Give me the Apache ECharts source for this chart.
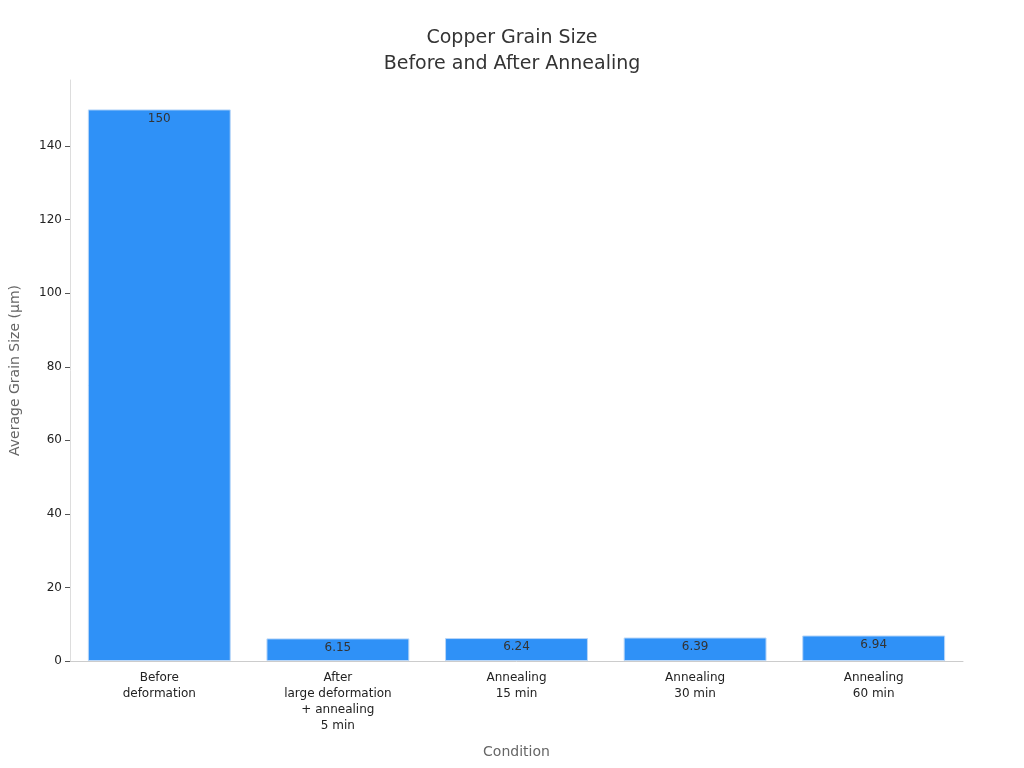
<!DOCTYPE html>
<html><head><meta charset="utf-8">
<script src="https://cdn.jsdelivr.net/npm/echarts@6/dist/echarts.min.js"></script>
<style>html,body{margin:0;padding:0;background:#fff}#c{width:1024px;height:768px}</style>
</head><body><div id="c"></div>
<script>
const categories = ["Before\ndeformation","After\nlarge deformation\n+ annealing\n5 min","Annealing\n15 min","Annealing\n30 min","Annealing\n60 min"];
const values = [150, 6.15, 6.24, 6.39, 6.94];
const labels = ["150","6.15","6.24","6.39","6.94"];
const chart = echarts.init(document.getElementById('c'));
const font = "DejaVu Sans";
chart.setOption({
  animation:false,
  textStyle:{fontFamily:font},
  title:{text:"Copper Grain Size\nBefore and After Annealing",left:'center',top:20,
    textStyle:{fontFamily:font,fontSize:19,fontWeight:'normal',color:'#333',lineHeight:26}},
  grid:{left:68,right:61,top:80,bottom:107},
  xAxis:{type:'category',data:categories,name:'Condition',nameLocation:'middle',nameGap:84,
    nameTextStyle:{fontSize:14,color:'#666'},
    axisLine:{lineStyle:{color:'#ccc'}},axisTick:{show:false},
    axisLabel:{color:'#222',fontSize:12,lineHeight:16,margin:9}},
  yAxis:{type:'value',min:0,max:158,interval:20,name:'Average Grain Size (μm)',nameLocation:'middle',nameGap:48,
    nameTextStyle:{fontSize:14,color:'#666'},
    axisLine:{show:true,lineStyle:{color:'#ddd'}},axisTick:{show:true,length:5,lineStyle:{color:'#555'}},
    axisLabel:{color:'#222',fontSize:12,showMaxLabel:false},splitLine:{show:false}},
  series:[{type:'bar',data:values,barCategoryGap:'20%',
    itemStyle:{color:'#2f91f7',borderColor:'#b8d6f8',borderWidth:1},
    label:{show:true,position:'insideTop',color:'#333',fontSize:12,distance:3,
      formatter:p=>labels[p.dataIndex]}}]
});
</script></body></html>
